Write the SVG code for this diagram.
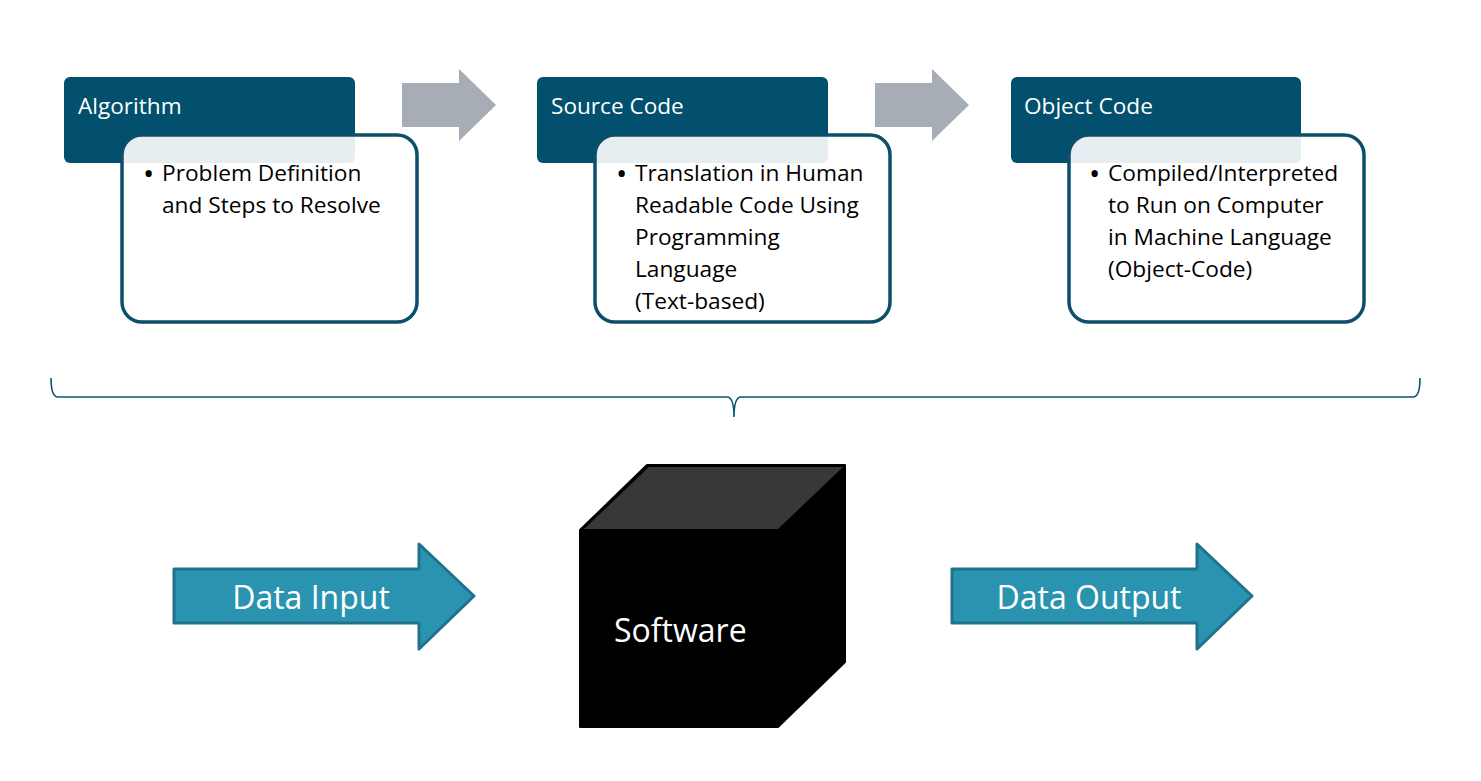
<svg xmlns="http://www.w3.org/2000/svg" width="1481" height="781" viewBox="0 0 1481 781">
<style>
.hdr{fill:#02506D}
.body{fill:#FFFFFF;fill-opacity:0.9;stroke:#0B4F6A;stroke-width:3.5}
.ht{font-family:"Open Sans","Liberation Sans",sans-serif;font-size:22.6px;fill:#FFFFFF}
.bt{font-family:"Open Sans","Liberation Sans",sans-serif;font-size:22.7px;fill:#000000}
.bul{font-family:"Open Sans","Liberation Sans",sans-serif;font-size:30px;fill:#000000}
.garrow{fill:#A6ADB4}
.barrow{fill:#2A94B0;stroke:#22718A;stroke-width:3;stroke-linejoin:round}
.big{font-family:"Open Sans","Liberation Sans",sans-serif;font-size:32px;fill:#FFFFFF}
</style>
<rect width="1481" height="781" fill="#FFFFFF"/>
<g id="algorithm">
<rect class="hdr" x="64" y="77" width="291" height="86" rx="6"/>
<rect class="body" x="122" y="135" width="295" height="187" rx="20"/>
<text class="ht" x="78" y="114">Algorithm</text>
<text class="bul" x="143" y="184">•</text>
<text class="bt" x="162" y="181">Problem Definition</text>
<text class="bt" x="162" y="213">and Steps to Resolve</text>
</g>
<g id="source-code">
<rect class="hdr" x="537" y="77" width="291" height="86" rx="6"/>
<rect class="body" x="595" y="135" width="295" height="187" rx="20"/>
<text class="ht" x="551" y="114">Source Code</text>
<text class="bul" x="616" y="184">•</text>
<text class="bt" x="635" y="181">Translation in Human</text>
<text class="bt" x="635" y="213">Readable Code Using</text>
<text class="bt" x="635" y="245">Programming</text>
<text class="bt" x="635" y="277">Language</text>
<text class="bt" x="635" y="309">(Text-based)</text>
</g>
<g id="object-code">
<rect class="hdr" x="1011" y="77" width="290" height="86" rx="6"/>
<rect class="body" x="1069" y="135" width="295" height="187" rx="20"/>
<text class="ht" x="1024" y="114">Object Code</text>
<text class="bul" x="1089" y="184">•</text>
<text class="bt" x="1108" y="181">Compiled/Interpreted</text>
<text class="bt" x="1108" y="213">to Run on Computer</text>
<text class="bt" x="1108" y="245">in Machine Language</text>
<text class="bt" x="1108" y="277">(Object-Code)</text>
</g>
<g id="software">
<polygon points="580,530 647,465 845,465 845,662 778,727 580,727" fill="#000000" stroke="#000000" stroke-width="2" stroke-linejoin="round"/>
<polygon points="584,529 649,467 843,467 778,529" fill="#383838"/>
<text class="big" x="614" y="642">Software</text>
</g>
<g id="connectors">
<polygon class="garrow" points="402,83 459,83 459,69 496,105 459,141 459,127 402,127"/>
<polygon class="garrow" points="875,83 932,83 932,69 969,105 932,141 932,127 875,127"/>
<path d="M51,378 Q51,397 58,397 L727,397 Q734,397 734,417 Q734,397 741,397 L1413,397 Q1420,397 1420,378" fill="none" stroke="#0B5573" stroke-width="1.6"/>
<g id="data-input">
<polygon class="barrow" points="174,569 419,569 419,544 474,596 419,649 419,623 174,623"/>
<text class="big" x="311" y="609" text-anchor="middle">Data Input</text>
</g>
<g id="data-output">
<polygon class="barrow" points="952,569 1197,569 1197,544 1252,596 1197,649 1197,623 952,623"/>
<text class="big" x="1089" y="609" text-anchor="middle">Data Output</text>
</g>
</g>
</svg>
